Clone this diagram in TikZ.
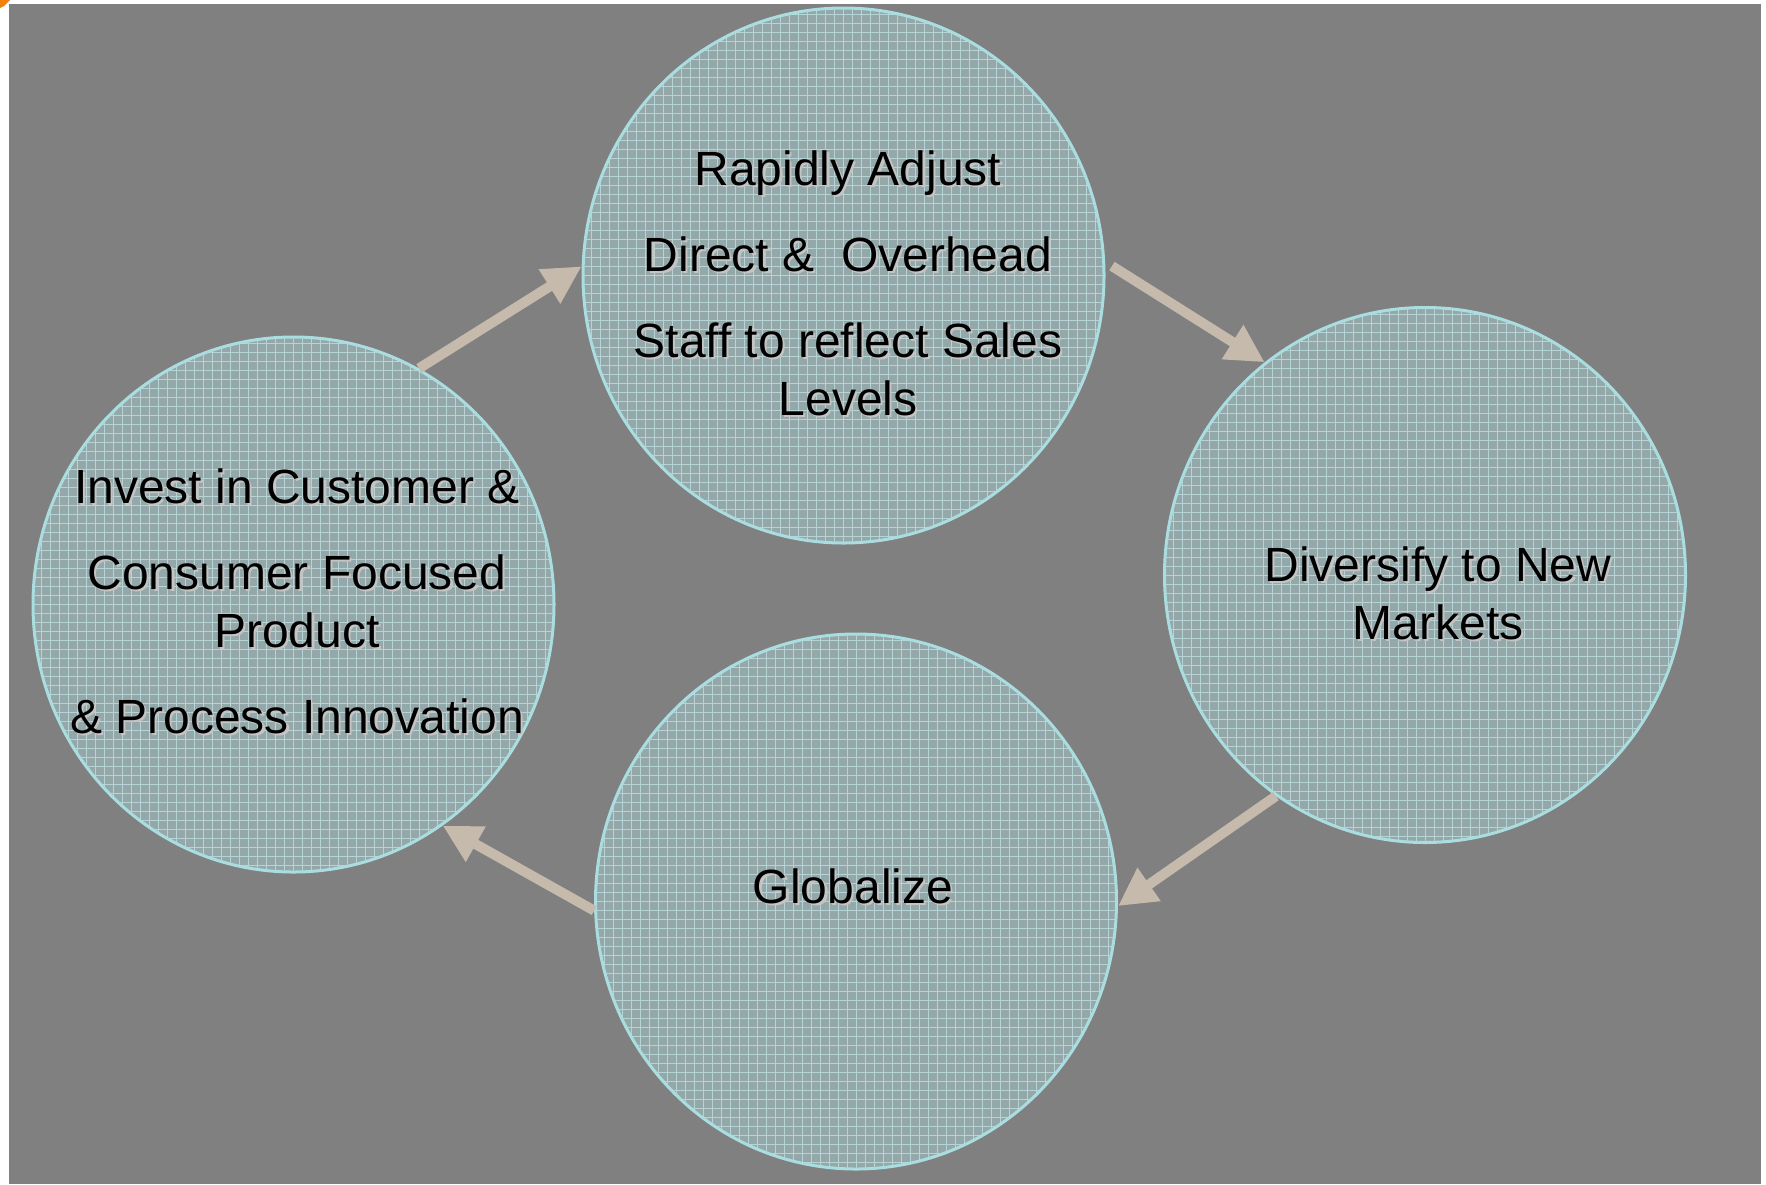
\documentclass[tikz,border=0pt]{standalone}
\usepackage{fontspec}
\setmainfont{Liberation Sans}
\usepackage{tikz}
\usetikzlibrary{
  shapes.geometric,
  arrows.meta}

\definecolor{backgray}{HTML}{808080}
\definecolor{discfill}{HTML}{94A7A9}
\definecolor{discgrid}{HTML}{B6D4D6}
\definecolor{discrim}{HTML}{AADDE0}
\definecolor{arrowtan}{HTML}{C5BAAC}
\definecolor{textshade}{HTML}{C4C4C4}
\newcommand{\shd}[1]{\makebox[0pt][l]{\hspace{1.1pt}\raisebox{-1.1pt}{\color{textshade}#1}}#1}

\begin{document}
\begin{tikzpicture}[x=0.5pt,y=-0.5pt]
\tikzset{
  disc/.style={ellipse, draw=discrim, line width=1.5pt,
    minimum width=260.5pt, minimum height=267.5pt, inner sep=0pt,
    path picture={
      \fill[discfill] (path picture bounding box.south west) rectangle (path picture bounding box.north east);
      \draw[discgrid, line width=0.45pt] (path picture bounding box.south west) grid[step=4.5pt] (path picture bounding box.north east);
    }},
  disctext/.style={align=center, font=\fontsize{24}{29}\selectfont, inner sep=0pt},
  cyclearrow/.style={draw=arrowtan, line width=5pt,
    -{Triangle[length=19pt,width=19pt]}},
}
\useasboundingbox (0,0) rectangle (1766,1184);
\fill[backgray] (9,4) rectangle (1761,1184);
\fill[orange!80!brown] (0,0) -- (10,0) -- (4,6) -- (0,8) -- cycle;

% the four discs
\node[disc] (adjust) at (843.5,275.5) {};
\node[disc] (diversify) at (1425,575) {};
\node[disc] (globalize) at (856,901.5) {};
\node[disc] (invest) at (293.5,604.5) {};

% their texts
\node[disctext] (adjustText) at (848,284.5)
  {\shd{Rapidly Adjust}\\[14pt] \shd{Direct \&\ \ Overhead}\\[14pt] \shd{Staff to reflect Sales}\\ \shd{Levels}};
\node[disctext] (diversifyText) at (1438,594)
  {\shd{Diversify to New}\\ \shd{Markets}};
\node[disctext] (globalizeText) at (853,887.5) {\shd{Globalize}};
\node[disctext] (investText) at (297,602)
  {\shd{Invest in Customer \&}\\[14pt] \shd{Consumer Focused}\\ \shd{Product}\\[14pt] \shd{\& Process Innovation}};

% the cycle
\path[cyclearrow] (invest.62.7) -- (adjust.178.4);
\path[cyclearrow, shorten <=4pt] (adjust.3.3) -- (diversify.127.8);
\path[cyclearrow] (diversify.236.1) -- (globalize.359);
\path[cyclearrow] (globalize.182.3) -- (invest.304.3);
\end{tikzpicture}
\end{document}
